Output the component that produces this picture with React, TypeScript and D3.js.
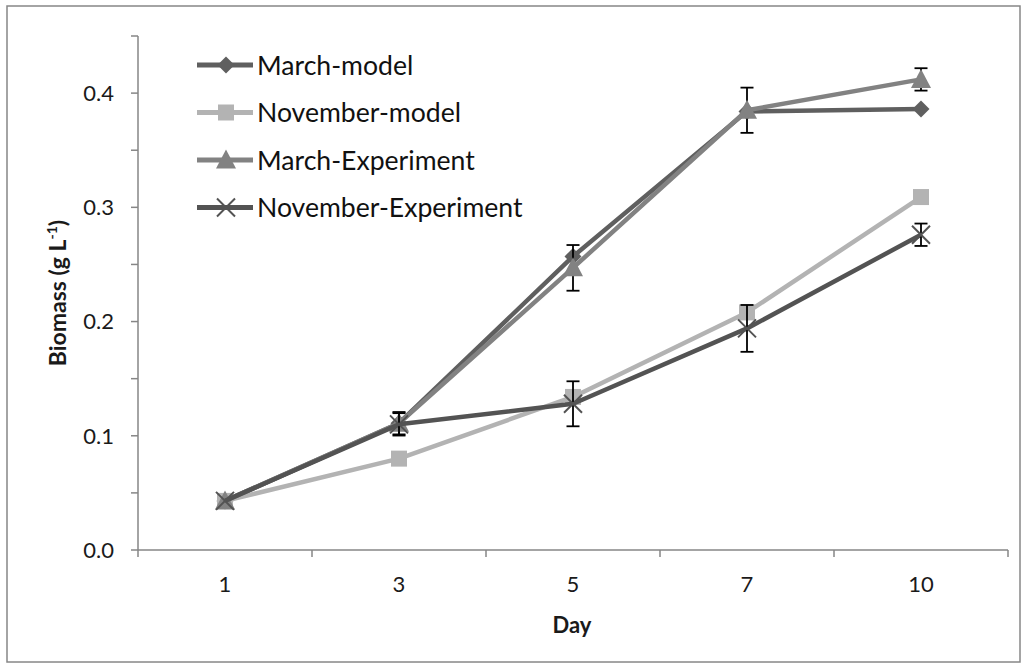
import React from "react";
import * as d3 from "d3";

// Sampling days (categorical axis)
const days = ["1", "3", "5", "7", "10"];

// Biomass (g L-1) for each series
const marchModel = [0.043, 0.111, 0.257, 0.384, 0.386];
const novemberModel = [0.043, 0.08, 0.134, 0.208, 0.309];
const marchExperiment = [0.043, 0.111, 0.247, 0.385, 0.412];
const novemberExperiment = [0.043, 0.11, 0.128, 0.194, 0.276];

// Standard deviations for the experimental series (null = no bar)
const marchExperimentErr = [null, 0.0098, 0.02, 0.0198, 0.0098];
const novemberExperimentErr = [null, 0.0098, 0.0197, 0.0205, 0.0098];

const yTicks = [0, 0.1, 0.2, 0.3, 0.4];

type Marker = "diamond" | "square" | "triangle" | "x";
interface Series {
  name: string;
  values: number[];
  err: (number | null)[] | null;
  color: string;
  marker: Marker;
}

const series: Series[] = [
  { name: "March-model", values: marchModel, err: null, color: "#5f5f5f", marker: "diamond" },
  { name: "November-model", values: novemberModel, err: null, color: "#b3b3b3", marker: "square" },
  { name: "March-Experiment", values: marchExperiment, err: marchExperimentErr, color: "#828282", marker: "triangle" },
  { name: "November-Experiment", values: novemberExperiment, err: novemberExperimentErr, color: "#535353", marker: "x" },
];

const W = 1027;
const H = 669;
const plot = { left: 138, right: 1008, top: 36, bottom: 550 };
const FONT = "Lato, 'Open Sans', sans-serif";

function MarkerShape({ kind, x, y, color }: { kind: Marker; x: number; y: number; color: string }) {
  if (kind === "diamond") {
    const r = 8.5;
    return <path d={`M${x},${y - r}L${x + r},${y}L${x},${y + r}L${x - r},${y}Z`} fill={color} />;
  }
  if (kind === "square") {
    const s = 16;
    return <rect x={x - s / 2} y={y - s / 2} width={s} height={s} fill={color} />;
  }
  if (kind === "triangle") {
    return <path d={`M${x},${y - 10.5}L${x + 10},${y + 8.5}L${x - 10},${y + 8.5}Z`} fill={color} />;
  }
  const r = 9;
  return (
    <path
      d={`M${x - r},${y - r}L${x + r},${y + r}M${x - r},${y + r}L${x + r},${y - r}`}
      stroke={color}
      strokeWidth={2}
    />
  );
}

export default function App() {
  const x = d3.scaleBand<string>().domain(days).range([plot.left, plot.right]);
  const y = d3.scaleLinear().domain([0, 0.45]).range([plot.bottom, plot.top]);
  const cx = (d: string) => (x(d) ?? 0) + x.bandwidth() / 2;

  const line = d3
    .line<number>()
    .x((_, i) => cx(days[i]))
    .y((v) => y(v));

  const axisColor = "#868686";
  const tickEdges = days.map((d) => x(d) ?? 0).concat([plot.right]);

  const legendX = 197;
  const legendY0 = 65;
  const legendStep = 47.5;

  return (
    <svg width={W} height={H} style={{ position: "absolute", left: 0, top: 0 }}>
      <rect x={0} y={0} width={W} height={H} fill="#fff" />
      <rect x={7} y={6} width={1013} height={656} fill="none" stroke="#878787" strokeWidth={1.5} />

      {/* axes */}
      <line x1={plot.left} x2={plot.left} y1={plot.top} y2={plot.bottom} stroke={axisColor} strokeWidth={1.5} />
      <line x1={plot.left} x2={plot.right} y1={plot.bottom} y2={plot.bottom} stroke={axisColor} strokeWidth={1.5} />
      {y.ticks(9).map((t) => (
        <line key={`yt${t}`} x1={plot.left - 7} x2={plot.left} y1={y(t)} y2={y(t)} stroke={axisColor} strokeWidth={1.5} />
      ))}
      {tickEdges.map((e, i) => (
        <line key={`xt${i}`} x1={e} x2={e} y1={plot.bottom} y2={plot.bottom + 7} stroke={axisColor} strokeWidth={1.5} />
      ))}
      {yTicks.map((t) => (
        <text
          key={`yl${t}`}
          x={plot.left - 24}
          y={y(t)}
          dy="0.36em"
          textAnchor="end"
          fontFamily={FONT}
          fontSize={22}
          fill="#1a1a1a"
        >
          {d3.format(".1f")(t)}
        </text>
      ))}
      {days.map((d) => (
        <text key={`xl${d}`} x={cx(d)} y={plot.bottom + 42} textAnchor="middle" fontFamily={FONT} fontSize={22} fill="#1a1a1a">
          {d}
        </text>
      ))}
      <text x={(plot.left + plot.right) / 2 - 1} y={633} textAnchor="middle" fontFamily={FONT} fontSize={22} fontWeight="bold" fill="#1a1a1a">
        Day
      </text>
      <text
        transform={`translate(66,${(plot.top + plot.bottom) / 2}) rotate(-90)`}
        textAnchor="middle"
        fontFamily={FONT}
        fontSize={23}
        fontWeight="bold"
        fill="#1a1a1a"
      >
        Biomass (g L<tspan dy={-9} fontSize={14}>-1</tspan>
        <tspan dy={9}>)</tspan>
      </text>

      {/* series */}
      {series.map((s) => (
        <g key={s.name}>
          <path d={line(s.values) ?? ""} fill="none" stroke={s.color} strokeWidth={4.5} strokeLinejoin="round" />
          {s.err &&
            s.values.map((v, i) => {
              const e = s.err![i];
              if (e == null) return null;
              const px = cx(days[i]);
              return (
                <g key={`e${i}`} stroke="#000" strokeWidth={1.8}>
                  <line x1={px} x2={px} y1={y(v + e)} y2={y(v - e)} />
                  <line x1={px - 6.5} x2={px + 6.5} y1={y(v + e)} y2={y(v + e)} />
                  <line x1={px - 6.5} x2={px + 6.5} y1={y(v - e)} y2={y(v - e)} />
                </g>
              );
            })}
          {s.values.map((v, i) => (
            <MarkerShape key={`m${i}`} kind={s.marker} x={cx(days[i])} y={y(v)} color={s.color} />
          ))}
        </g>
      ))}

      {/* legend */}
      {series.map((s, i) => {
        const ly = legendY0 + i * legendStep;
        return (
          <g key={`lg${s.name}`}>
            <line x1={legendX} x2={legendX + 56} y1={ly} y2={ly} stroke={s.color} strokeWidth={5} />
            <MarkerShape kind={s.marker} x={legendX + 29} y={ly} color={s.color} />
            <text x={legendX + 60} y={ly} dy="0.36em" fontFamily={FONT} fontSize={26.6} fill="#111">
              {s.name}
            </text>
          </g>
        );
      })}
    </svg>
  );
}
